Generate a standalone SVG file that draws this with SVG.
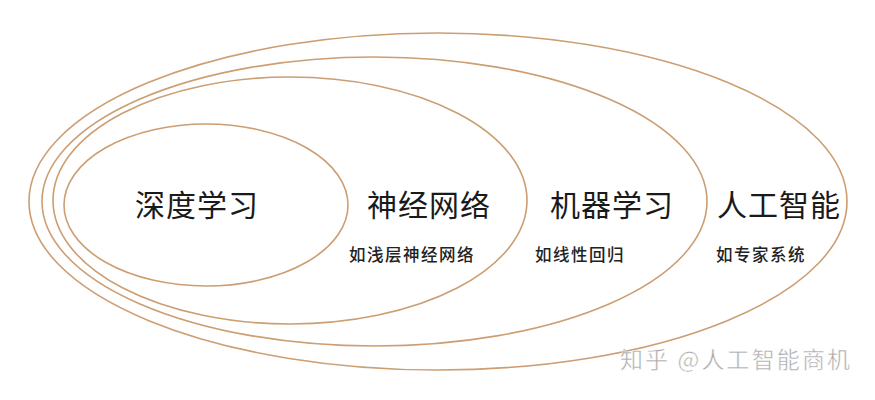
<svg xmlns="http://www.w3.org/2000/svg" width="875" height="400" viewBox="0 0 875 400">
  <style>
    .ring { fill: none; stroke: #cc9e72; stroke-width: 1.6; }
    .main { font-family: "Noto Sans CJK SC", "Liberation Sans", sans-serif; font-size: 30px; fill: #1a1a1a; text-anchor: middle; letter-spacing: 1px; }
    .sub { font-family: "Noto Sans CJK SC", "Liberation Sans", sans-serif; font-size: 16.5px; font-weight: 500; fill: #222; text-anchor: middle; letter-spacing: 1.5px; }
    .wm { font-family: "Noto Sans CJK SC", "Liberation Sans", sans-serif; font-size: 23px; fill: #a9a9a9; stroke: #ffffff; stroke-width: 0.5; }
  </style>
  <rect width="875" height="400" fill="#ffffff"/>
  <g id="ai">
    <ellipse class="ring" cx="438" cy="201.5" rx="409" ry="168.5"/>
    <text class="main" x="779" y="216">人工智能</text>
    <text class="sub" x="761" y="261">如专家系统</text>
  </g>
  <g id="ml">
    <ellipse class="ring" cx="374.5" cy="201.5" rx="332.5" ry="144.5"/>
    <text class="main" x="612" y="216">机器学习</text>
    <text class="sub" x="580" y="261">如线性回归</text>
  </g>
  <g id="nn">
    <ellipse class="ring" cx="290" cy="200.5" rx="237" ry="123.5"/>
    <text class="main" x="429" y="216">神经网络</text>
    <text class="sub" x="412" y="261">如浅层神经网络</text>
  </g>
  <g id="dl">
    <ellipse class="ring" cx="206" cy="205" rx="142" ry="81"/>
    <text class="main" x="197" y="216">深度学习</text>
  </g>
  <g id="connectors"></g>
  <text class="wm" x="620" y="368" textLength="230" lengthAdjust="spacing">知乎 @人工智能商机</text>
</svg>
